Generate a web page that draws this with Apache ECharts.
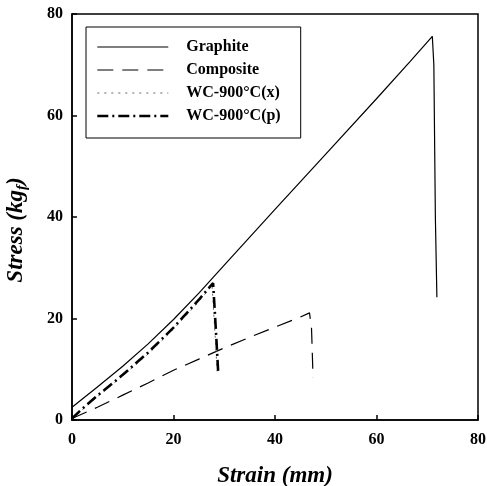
<!DOCTYPE html>
<html>
<head>
<meta charset="utf-8">
<script src="https://cdn.jsdelivr.net/npm/echarts@6/dist/echarts.min.js"></script>
<style>
  html, body { margin: 0; padding: 0; background: #fff; }
  #chart { width: 487px; height: 486px; }
</style>
</head>
<body>
<div id="chart"></div>
<script>
// Tensile test curves: stress vs strain
const seriesNames = ['Graphite', 'Composite', 'WC-900\u00B0C(x)', 'WC-900\u00B0C(p)'];

const graphiteStrain = [0, 5, 10, 15, 20, 25, 30, 40, 50, 60, 66.6, 71.0, 71.3, 71.6, 71.9];
const graphiteStress = [2.5, 6.5, 10.6, 15.0, 19.8, 25.0, 30.5, 41.5, 52.4, 63.3, 70.6, 75.6, 70.0, 40.0, 24.2];

const compositeStrain = [0, 5, 10, 15, 20, 25, 30, 35, 40, 45, 46.8, 47.2, 47.5];
const compositeStress = [0.3, 2.5, 4.9, 7.3, 9.8, 12.0, 14.2, 16.3, 18.3, 20.3, 21.1, 18.0, 8.3];

const wcXStrain = [0, 2, 5, 10, 15, 20, 25, 27.6, 27.9, 28.3, 28.6];
const wcXStress = [0.2, 2.0, 4.6, 8.7, 13.0, 17.9, 23.3, 26.6, 21.5, 15.0, 9.6];

const wcPStrain = [0, 2, 5, 10, 15, 20, 25, 27.8, 28.1, 28.5, 28.8];
const wcPStress = [0.3, 2.2, 4.8, 8.9, 13.3, 18.2, 23.7, 27.0, 22.0, 15.0, 9.5];

const xTicks = [0, 20, 40, 60, 80];
const yTicks = [0, 20, 40, 60, 80];

function pairs(xs, ys) { return xs.map((x, i) => [x, ys[i]]); }

const serif = '"Liberation Serif", "DejaVu Serif", serif';
const lineStyles = [
  { color: '#000', width: 1.2, type: 'solid' },
  { color: '#000', width: 1.2, type: [16, 9] },
  { color: '#666', width: 1, type: [2, 5] },
  { color: '#000', width: 2.6, type: [11, 4, 2, 4] }
];

const chart = echarts.init(document.getElementById('chart'), null, { renderer: 'canvas' });

chart.setOption({
  animation: false,
  backgroundColor: '#fff',
  grid: {
    left: 72, right: 9, top: 14, bottom: 66,
    containLabel: false, outerBoundsMode: 'none',
    show: true, borderColor: '#000', borderWidth: 1.5, backgroundColor: 'transparent'
  },
  legend: {
    left: 86, top: 27,
    orient: 'vertical',
    itemWidth: 71, itemHeight: 14, itemGap: 7,
    padding: [12, 20, 14, 10],
    borderColor: '#000', borderWidth: 1,
    itemStyle: { opacity: 0 },
    textStyle: {
      fontFamily: serif, fontWeight: 'bold', fontSize: 16, color: '#000',
      lineHeight: 16, padding: [0, 0, 0, 13]
    },
    data: seriesNames.map((n, i) => ({ name: n, lineStyle: lineStyles[i] }))
  },
  xAxis: {
    type: 'value', min: xTicks[0], max: xTicks[xTicks.length - 1], interval: 20,
    axisLine: { lineStyle: { color: '#000', width: 1.5 } },
    axisTick: { inside: true, length: 5, lineStyle: { color: '#000', width: 1.5 } },
    splitLine: { show: false },
    axisLabel: { margin: 12, fontFamily: serif, fontWeight: 'bold', fontSize: 16, color: '#000' },
    name: 'Strain (mm)', nameLocation: 'middle', nameGap: 45,
    nameTextStyle: { fontFamily: serif, fontWeight: 'bold', fontStyle: 'italic', fontSize: 23, color: '#000' }
  },
  yAxis: {
    type: 'value', min: yTicks[0], max: yTicks[yTicks.length - 1], interval: 20,
    axisLine: { lineStyle: { color: '#000', width: 1.5 } },
    axisTick: { inside: true, length: 5, lineStyle: { color: '#000', width: 1.5 } },
    splitLine: { show: false },
    axisLabel: { margin: 9, fontFamily: serif, fontWeight: 'bold', fontSize: 16, color: '#000' },
    name: '{a|Stress (kg}{s|f}{a|)}', nameLocation: 'middle', nameGap: 42,
    nameTextStyle: {
      padding: [0, 26, 0, 0],
      rich: {
        a: { fontFamily: serif, fontWeight: 'bold', fontStyle: 'italic', fontSize: 23, color: '#000' },
        s: { fontFamily: serif, fontWeight: 'bold', fontStyle: 'italic', fontSize: 15, color: '#000', padding: [12, 0, 0, 0] }
      }
    }
  },
  series: [
    { name: seriesNames[0], type: 'line', symbol: 'none', data: pairs(graphiteStrain, graphiteStress),
      lineStyle: lineStyles[0], itemStyle: { color: lineStyles[0].color } },
    { name: seriesNames[1], type: 'line', symbol: 'none', data: pairs(compositeStrain, compositeStress),
      lineStyle: lineStyles[1], itemStyle: { color: lineStyles[1].color } },
    { name: seriesNames[2], type: 'line', symbol: 'none', data: pairs(wcXStrain, wcXStress),
      lineStyle: lineStyles[2], itemStyle: { color: lineStyles[2].color } },
    { name: seriesNames[3], type: 'line', symbol: 'none', data: pairs(wcPStrain, wcPStress),
      lineStyle: lineStyles[3], itemStyle: { color: lineStyles[3].color } }
  ]
});
</script>
</body>
</html>
